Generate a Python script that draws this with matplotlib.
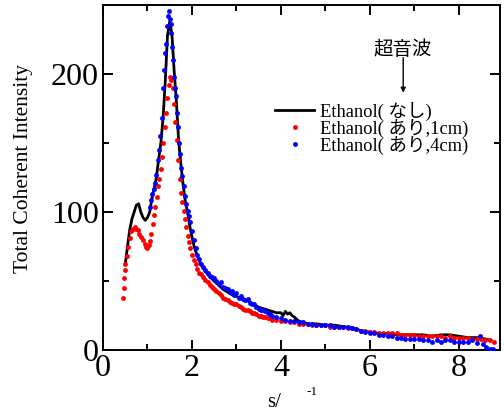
import numpy as np
import matplotlib
matplotlib.use("Agg")
import matplotlib.pyplot as plt
from matplotlib.lines import Line2D

plt.rcParams['font.family'] = ['Liberation Serif', 'Noto Sans CJK JP', 'DejaVu Sans']

# Ethanol (no ultrasound) - black line
x_none = [0.50, 0.55, 0.60, 0.65, 0.70, 0.75, 0.80, 0.85, 0.90, 0.95, 1.00, 1.05,
          1.10, 1.15, 1.20, 1.25, 1.30, 1.35, 1.40, 1.45, 1.50, 1.55, 1.60, 1.65,
          1.70, 1.75, 1.80, 1.85, 1.90, 1.95, 2.00, 2.05, 2.10, 2.15, 2.20, 2.25,
          2.30, 2.40, 2.50, 2.60, 2.70, 2.80, 2.90, 3.00, 3.10, 3.20, 3.30, 3.40,
          3.50, 3.60, 3.70, 3.80, 3.90, 4.00, 4.05, 4.10, 4.15, 4.20, 4.25, 4.30,
          4.40, 4.50, 4.60, 4.80, 5.00, 5.20, 5.40, 5.60, 5.80, 6.00, 6.20, 6.40,
          6.60, 6.80, 7.00, 7.20, 7.40, 7.60, 7.80, 8.00, 8.20, 8.40, 8.60, 8.70]
y_none = [62, 75, 87, 95, 100, 105, 106, 100, 96, 94, 96, 100,
          110, 117, 125, 138, 150, 168, 195, 228, 238, 229, 202, 180,
          152, 135, 120, 108, 100, 90, 82, 75, 70, 66, 62, 60,
          57, 53, 50, 47, 44, 42, 40, 39, 37, 36, 35, 33,
          31, 30, 29, 28, 27, 27, 25, 28, 26, 27, 25, 24,
          21, 20, 19, 19, 18, 18, 17, 16, 14, 13, 12, 12,
          11, 11, 11, 11, 10, 11, 11, 10, 9, 9, 8, 7]

# Ethanol (ultrasound, 1cm) - red dots
x_1cm = [0.46, 0.47, 0.48, 0.49, 0.50, 0.53, 0.56, 0.60, 0.63, 0.67, 0.71, 0.75,
         0.78, 0.82, 0.86, 0.90, 0.94, 0.97, 1.00, 1.03, 1.06, 1.09, 1.12, 1.15,
         1.18, 1.21, 1.24, 1.27, 1.30, 1.33, 1.36, 1.39, 1.42, 1.45, 1.48, 1.51,
         1.54, 1.57, 1.60, 1.63, 1.66, 1.69, 1.72, 1.75, 1.78, 1.81, 1.84, 1.87,
         1.90, 1.93, 1.96, 2.00, 2.04, 2.08, 2.12, 2.16, 2.20, 2.25, 2.30, 2.35,
         2.40, 2.45, 2.50, 2.55, 2.60, 2.65, 2.70, 2.75, 2.80, 2.85, 2.90, 2.95,
         3.00, 3.05, 3.10, 3.15, 3.20, 3.25, 3.30, 3.35, 3.40, 3.45, 3.50, 3.55,
         3.60, 3.65, 3.70, 3.75, 3.80, 3.90, 4.00, 4.10, 4.20, 4.30, 4.40, 4.50,
         4.60, 4.70, 4.80, 4.90, 5.00, 5.10, 5.20, 5.30, 5.40, 5.50, 5.60, 5.70,
         5.80, 5.90, 6.00, 6.10, 6.20, 6.30, 6.40, 6.50, 6.60, 6.70, 6.80, 6.90,
         7.00, 7.10, 7.20, 7.30, 7.40, 7.50, 7.60, 7.70, 7.80, 7.90, 8.00, 8.10,
         8.20, 8.30, 8.40, 8.50, 8.60, 8.70, 8.80]
y_1cm = [38, 45, 52, 58, 62, 68, 75, 81, 86, 88, 89, 88,
         87, 84, 82, 80, 77, 75, 74, 76, 79, 84, 91, 98,
         104, 111, 119, 124, 131, 140, 150, 162, 172, 183, 192, 198,
         196, 190, 178, 165, 152, 138, 124, 114, 107, 101, 95, 89,
         83, 78, 74, 69, 65, 62, 59, 56, 55, 53, 51, 49,
         47, 46, 44, 43, 41, 40, 38, 37, 36, 35, 34, 33,
         33, 32, 31, 30, 29, 29, 28, 27, 27, 26, 25, 25,
         24, 24, 23, 23, 22, 22, 21, 21, 20, 20, 19, 19,
         19, 18, 18, 18, 18, 17, 17, 17, 17, 16, 16, 15,
         14, 14, 13, 13, 12, 12, 12, 12, 12, 11, 11, 11,
         11, 10, 10, 10, 10, 10, 10, 9, 10, 9, 9, 9,
         9, 8, 8, 8, 7, 7, 6]

# Ethanol (ultrasound, 4cm) - blue dots
x_4cm = [1.05, 1.08, 1.11, 1.14, 1.17, 1.20, 1.23, 1.26, 1.29, 1.32, 1.35, 1.38,
         1.40, 1.42, 1.44, 1.46, 1.48, 1.50, 1.52, 1.54, 1.56, 1.58, 1.60, 1.62,
         1.64, 1.66, 1.68, 1.70, 1.72, 1.75, 1.78, 1.81, 1.84, 1.87, 1.90, 1.93,
         1.96, 2.00, 2.04, 2.08, 2.12, 2.16, 2.20, 2.25, 2.30, 2.35, 2.40, 2.45,
         2.50, 2.55, 2.60, 2.65, 2.70, 2.75, 2.80, 2.85, 2.90, 2.95, 3.00, 3.05,
         3.10, 3.15, 3.20, 3.25, 3.30, 3.35, 3.40, 3.45, 3.50, 3.55, 3.60, 3.65,
         3.70, 3.75, 3.80, 3.90, 4.00, 4.10, 4.20, 4.30, 4.40, 4.50, 4.60, 4.70,
         4.80, 4.90, 5.00, 5.10, 5.20, 5.30, 5.40, 5.50, 5.60, 5.70, 5.80, 5.90,
         6.00, 6.10, 6.20, 6.30, 6.40, 6.50, 6.60, 6.70, 6.80, 6.90, 7.00, 7.10,
         7.20, 7.30, 7.40, 7.50, 7.60, 7.70, 7.80, 7.90, 8.00, 8.10, 8.20, 8.30,
         8.40, 8.47, 8.55, 8.62, 8.70, 8.78]
y_4cm = [104, 109, 113, 117, 121, 127, 138, 145, 155, 168, 190, 203,
         215, 222, 235, 242, 246, 240, 236, 230, 220, 210, 198, 190,
         184, 172, 162, 150, 142, 132, 126, 119, 112, 106, 101, 97,
         93, 86, 80, 74, 69, 66, 62, 60, 58, 56, 54, 53,
         52, 50, 48, 49, 46, 45, 44, 42, 43, 40, 41, 38,
         39, 37, 36, 37, 34, 33, 33, 31, 30, 29, 29, 28,
         27, 26, 25, 24, 23, 22, 21, 21, 20, 20, 19, 19,
         18, 18, 18, 18, 17, 17, 17, 17, 16, 15, 14, 13,
         12, 12, 11, 11, 10, 10, 9, 9, 8, 8, 8, 8,
         7, 7, 6, 7, 6, 7, 7, 6, 6, 6, 6, 7,
         5, 10, 4, 2, 1, 1]

fig = plt.figure(figsize=(5.04, 4.12), dpi=100)
ax = fig.add_axes([0.2044, 0.1505, 0.787, 0.837])

ax.plot(x_none, y_none, color='black', lw=2.0, zorder=2)
ax.plot(x_1cm, y_1cm, 'o', color='red', ms=3.5, mew=0, zorder=3)
ax.plot(x_4cm, y_4cm, 'o', color='blue', ms=3.5, mew=0, zorder=4)

ax.set_xlim(0, 8.92)
ax.set_ylim(0, 250)
ax.set_xticks([0, 2, 4, 6, 8])
ax.set_xticks([1, 3, 5, 7], minor=True)
ax.set_yticks([0, 100, 200])
ax.set_yticks([50, 150], minor=True)
ax.tick_params(which='both', direction='in', top=True, right=True,
               width=1.4, labelsize=23, pad=3)
ax.tick_params(which='major', length=7)
ax.tick_params(which='minor', length=4.5)
for s in ax.spines.values():
    s.set_linewidth(1.4)

ax.set_ylabel('Total Coherent Intensity', fontsize=15.5)
ax.yaxis.set_label_coords(-0.176, 0.525)
fig.text(0.531, 0.012, 's/', fontsize=15, ha='left', va='baseline')
fig.text(0.609, 0.0485, '-1', fontsize=9.5, ha='left', va='center')

handles = [Line2D([], [], color='black', lw=2.0),
           Line2D([], [], ls='none', marker='o', color='red', ms=3.5, mew=0),
           Line2D([], [], ls='none', marker='o', color='blue', ms=3.5, mew=0)]
labels = ['Ethanol( なし)', 'Ethanol( あり,1cm)', 'Ethanol( あり,4cm)']
ax.legend(handles, labels, loc='upper left', bbox_to_anchor=(0.546, 0.753),
          bbox_transform=fig.transFigure, frameon=False, fontsize=13.3,
          handlelength=2.1, handletextpad=0.3, labelspacing=-0.12,
          borderpad=0, borderaxespad=0)

ax.annotate('', xy=(0.80, 0.775), xytext=(0.80, 0.86), xycoords='figure fraction',
            arrowprops=dict(arrowstyle='-|>', color='black', lw=1.0,
                            mutation_scale=7, shrinkA=0, shrinkB=0))
fig.text(0.80, 0.879, '超音波', fontsize=14, ha='center', va='center')

fig.savefig('out.png', dpi=100)
